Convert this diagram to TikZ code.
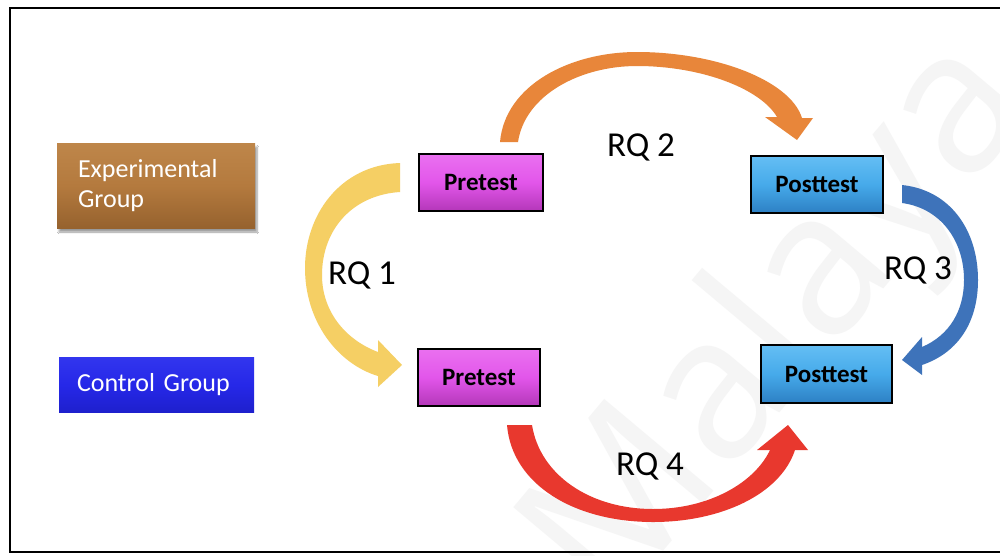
\documentclass[tikz,border=0pt]{standalone}
\usepackage{fontspec}
\setmainfont{Carlito}
\newfontfamily\wmfont{Open Sans}
\usetikzlibrary{shadows.blur}

% box colours (main, light top edge, dark bottom edge)
\definecolor{brownM}{RGB}{180,122,62}
\definecolor{brownT}{RGB}{190,134,74}
\definecolor{brownB}{RGB}{150,98,46}
\definecolor{ctrlM}{RGB}{38,40,232}
\definecolor{ctrlT}{RGB}{50,54,238}
\definecolor{ctrlB}{RGB}{30,32,205}
\definecolor{magM}{RGB}{226,86,234}
\definecolor{magT}{RGB}{234,112,240}
\definecolor{magB}{RGB}{180,55,185}
\definecolor{skyM}{RGB}{70,170,234}
\definecolor{skyT}{RGB}{100,190,244}
\definecolor{skyB}{RGB}{45,128,196}
% arrow colours
\definecolor{arrYellow}{RGB}{245,207,100}
\definecolor{arrOrange}{RGB}{232,134,58}
\definecolor{arrBlue}{RGB}{62,115,186}
\definecolor{arrRed}{RGB}{232,56,46}

\tikzset{
  groupbox/.style={inner sep=0pt, text=white, align=left,
    font=\fontsize{26}{30}\selectfont},
  testbox/.style={draw=black, line width=1.5pt, inner sep=0pt,
    font=\bfseries\fontsize{25}{30}\selectfont},
  rqlabel/.style={inner sep=0pt, font=\fontsize{35}{40}\selectfont},
  blockarrow/.style={fill=#1, draw=none},
}

\begin{document}
\begin{tikzpicture}[x=1pt,y=-1pt]
\useasboundingbox (0,0) rectangle (1000,555);
\clip (0,0) rectangle (1000,555);
\fill[white] (0,0) rectangle (1000,555);

% faint watermark behind everything
\node[rotate=50, anchor=base west, inner sep=0pt, text=black!4,
      font=\wmfont\fontsize{200}{200}\selectfont] (wm) at (610,615) {Malaya};

% outer frame (right edge lies beyond the page)
\draw[line width=2pt] (10,8) rectangle (1012,552);

% group labels
\node[groupbox, minimum width=198pt, minimum height=85pt, text width=156pt,
      top color=brownT, bottom color=brownB, middle color=brownM,
      blur shadow={shadow xshift=2pt, shadow yshift=-4pt, shadow blur steps=6, shadow opacity=40}]
      (exp) at (156,185.5) {Experimental\\Group};
\node[groupbox, minimum width=195pt, minimum height=55pt, text width=159pt,
      top color=ctrlT, bottom color=ctrlB, middle color=ctrlM]
      (ctrl) at (156.5,384.5) {Control Group};

% test boxes
\node[testbox, minimum width=124pt, minimum height=57pt,
      top color=magT, bottom color=magB, middle color=magM] (pre1) at (481,182.5) {Pretest};
\node[testbox, minimum width=122pt, minimum height=57pt,
      top color=magT, bottom color=magB, middle color=magM] (pre2) at (479,377.5) {Pretest};
\node[testbox, minimum width=132pt, minimum height=57pt,
      top color=skyT, bottom color=skyB, middle color=skyM] (post1) at (817,184.5) {Posttest};
\node[testbox, minimum width=131pt, minimum height=58pt,
      top color=skyT, bottom color=skyB, middle color=skyM] (post2) at (826.5,374) {Posttest};

% RQ 1: curved arrow from the upper pretest down to the lower pretest
\path[blockarrow=arrYellow]
  (400,163) .. controls (340,165) and (305,215) .. (305,268)
  .. controls (305,322) and (338,364) .. (378,376)
  -- (378,387) -- (402,365) -- (378,340) -- (378,352)
  .. controls (346,340) and (322,312) .. (322,275)
  .. controls (322,230) and (352,195) .. (400,192) -- cycle;

% RQ 2: arch from the upper pretest to the upper posttest
\path[blockarrow=arrOrange]
  (500,142) .. controls (505,85) and (570,52) .. (637,52)
  .. controls (715,52) and (790,80) .. (802,118)
  -- (813,118) -- (797,140) -- (765,117) -- (777,117)
  .. controls (760,88) and (700,66) .. (637,66)
  .. controls (580,66) and (525,95) .. (518,142) -- cycle;

% RQ 3: curved arrow from the upper posttest to the lower posttest
\path[blockarrow=arrBlue]
  (902,185) .. controls (950,190) and (978,230) .. (978,280)
  .. controls (978,320) and (960,352) .. (922,365)
  -- (922,375) -- (902,360) -- (922,337) -- (922,347)
  .. controls (950,335) and (964,310) .. (964,280)
  .. controls (964,240) and (940,208) .. (902,203) -- cycle;

% RQ 4: bowl from the lower pretest to the lower posttest
\path[blockarrow=arrRed]
  (507,425) .. controls (512,485) and (575,522) .. (653,522)
  .. controls (720,522) and (780,495) .. (795,450)
  -- (808,450) -- (788,425) -- (757,450) -- (770,450)
  .. controls (755,482) and (710,509) .. (653,509)
  .. controls (590,509) and (540,475) .. (532,425) -- cycle;

% research question labels
\node[rqlabel] (rq1) at (362,275) {RQ 1};
\node[rqlabel] (rq2) at (641,147) {RQ 2};
\node[rqlabel] (rq3) at (918,270) {RQ 3};
\node[rqlabel] (rq4) at (650,466) {RQ 4};
\end{tikzpicture}
\end{document}
